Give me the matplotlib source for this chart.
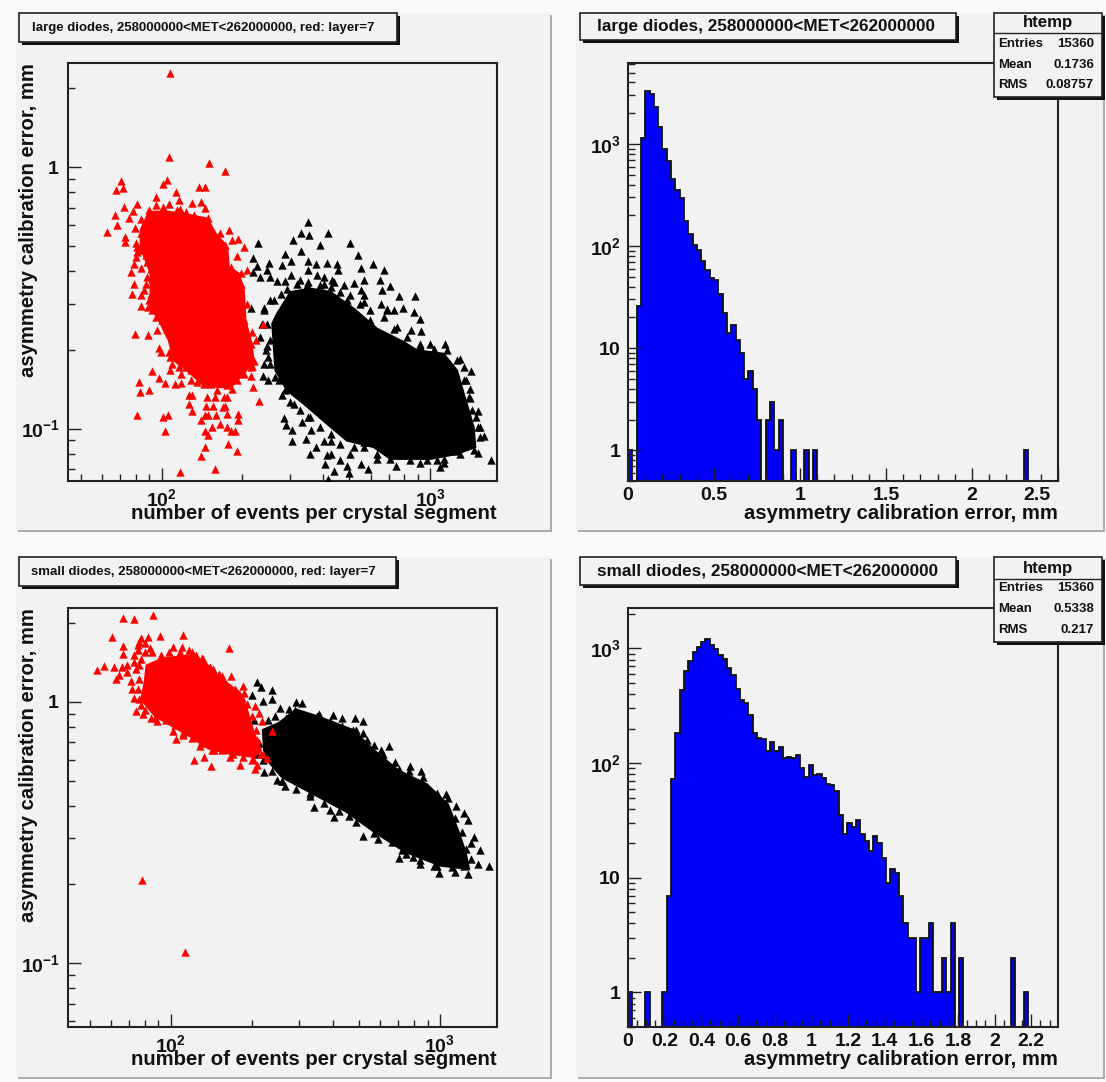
"""ROOT style calibration error panels: two scatter plots and two histograms."""

import matplotlib

matplotlib.use("Agg")
import matplotlib.pyplot as plt
import numpy as np
from matplotlib.patches import Rectangle
from matplotlib.ticker import LogLocator, NullFormatter, MultipleLocator
from matplotlib.transforms import ScaledTranslation

W, H = 1106, 1082
PAD_COLOR = "#f2f2f2"
BG_COLOR = "#f9f9f9"
INK = "#111111"

# scatter values are (log10 events, log10 error)
# large diodes: saturated core outlines, then the separate points round them
large_black_core = [
    (2.430, -.561), (2.480, -.478), (2.554, -.465), (2.629, -.478), (2.715, -.541), (2.802, -.618),
    (2.901, -.669), (2.951, -.701), (3.050, -.714), (3.100, -.778), (3.125, -.867), (3.162, -.995),
    (3.168, -1.071), (3.100, -1.097), (3.001, -1.116), (2.852, -1.116), (2.790, -1.071), (2.690, -1.046),
    (2.616, -.982), (2.529, -.905), (2.467, -.854), (2.424, -.778), (2.418, -.688), (2.412, -.599),
]
large_black_points = [
    (2.545, -.209), (2.519, -.254), (2.549, -.259), (2.619, -.254), (2.490, -.280), (2.358, -.290),
    (2.589, -.300), (2.703, -.290), (2.519, -.320), (2.460, -.331), (2.733, -.336), (2.341, -.346),
    (2.400, -.366), (2.356, -.377), (2.447, -.374), (2.480, -.361), (2.544, -.359), (2.574, -.372),
    (2.614, -.366), (2.653, -.372), (2.658, -.392), (2.544, -.395), (2.743, -.387), (2.787, -.372),
    (2.827, -.392), (2.341, -.402), (2.393, -.395), (2.480, -.412), (2.579, -.414), (2.718, -.443),
    (2.753, -.433), (2.812, -.433), (2.852, -.453), (2.633, -.433), (2.678, -.452), (2.743, -.471),
    (2.820, -.469), (2.883, -.494), (2.942, -.494), (2.368, -.420), (2.403, -.420), (2.430, -.435),
    (2.460, -.435), (2.514, -.433), (2.544, -.438), (2.606, -.446), (2.753, -.516), (2.817, -.522),
    (2.839, -.541), (2.867, -.548), (2.899, -.538), (2.941, -.554), (2.961, -.580), (2.929, -.624),
    (2.966, -.627), (3.001, -.675), (3.055, -.675), (2.961, -.683), (3.112, -.733), (3.152, -.780),
    (3.134, -.816), (3.147, -.848), (3.147, -.882), (3.180, -.933), (3.172, -.956), (3.184, -.995),
    (3.201, -1.030), (3.180, -1.092), (3.226, -1.122), (2.331, -.538), (2.381, -.538), (2.374, -.599),
    (2.366, -.650), (2.393, -.686), (2.381, -.752), (2.395, -.727), (2.376, -.801), (2.395, -.813),
    (2.424, -.803), (2.449, -.873), (2.477, -.899), (2.455, -.959), (2.465, -.985), (2.486, -1.007),
    (2.486, -1.046), (2.523, -.976), (2.536, -1.039), (2.544, -.956), (2.558, -1.007), (2.574, -1.071),
    (2.552, -1.097), (2.616, -1.103), (2.629, -1.020), (2.653, -.985), (2.610, -1.135), (2.641, -1.161),
    (2.619, -1.193), (2.698, -1.170), (2.767, -1.154), (2.743, -1.135), (2.802, -1.116), (2.753, -1.052),
    (2.691, -1.142), (2.873, -1.144), (2.961, -1.133), (3.025, -1.122), (3.038, -1.148), (3.050, -1.133),
    (3.094, -1.087), (2.777, -.586), (2.864, -.618),
    # fringe of the dense cloud
    (2.418, -.509), (2.443, -.484), (2.467, -.465), (2.505, -.446), (2.542, -.452), (2.591, -.452),
    (2.629, -.458), (2.666, -.478), (2.691, -.509), (2.740, -.522), (2.777, -.548), (2.827, -.573),
    (2.877, -.612), (2.914, -.650), (2.963, -.675), (3.013, -.695), (3.062, -.701), (3.100, -.739),
    (3.125, -.765), (3.125, -.816), (3.143, -.880), (3.156, -.931), (3.180, -.995), (3.187, -1.033),
    (3.162, -1.084), (3.112, -1.097), (3.050, -1.116), (2.988, -1.122), (2.926, -1.122), (2.852, -1.116),
    (2.802, -1.097), (2.753, -1.071), (2.715, -1.071), (2.666, -1.059), (2.629, -1.046), (2.591, -.995),
    (2.554, -.956), (2.517, -.931), (2.492, -.905), (2.461, -.854), (2.436, -.816), (2.405, -.752),
    (2.387, -.701), (2.405, -.663), (2.393, -.599), (2.381, -.548), (2.405, -.509), (2.603, -.420),
    (2.641, -.439), (2.703, -.490), (2.753, -.490), (2.839, -.548), (2.629, -1.097), (2.666, -1.122),
    (2.703, -1.097), (2.604, -1.046),
]
large_red_core = [
    (1.953, -.171), (2.027, -.171), (2.108, -.184), (2.170, -.197), (2.201, -.254), (2.244, -.305),
    (2.250, -.382), (2.287, -.407), (2.306, -.471), (2.312, -.586), (2.331, -.663), (2.343, -.739),
    (2.306, -.790), (2.257, -.842), (2.226, -.842), (2.157, -.835), (2.108, -.790), (2.046, -.739),
    (2.027, -.663), (1.990, -.586), (1.959, -.535), (1.959, -.407), (1.922, -.305), (1.922, -.241),
]
large_red_points = [
    (2.033, .360), (2.029, .037), (2.177, .017), (2.237, -.014), (2.019, -.050), (2.004, -.065),
    (1.850, -.055), (1.830, -.086), (1.855, -.080), (2.138, -.075), (2.162, -.075), (2.053, -.096),
    (1.979, -.116), (1.909, -.142), (1.860, -.152), (1.895, -.167), (1.825, -.183), (1.880, -.193),
    (1.835, -.223), (1.795, -.249), (1.900, -.234), (1.865, -.267), (1.862, -.287), (2.063, -.126),
    (2.113, -.137), (2.148, -.132), (2.029, -.142), (1.979, -.147), (2.004, -.152), (1.954, -.163),
    (2.162, -.157), (2.068, -.162), (1.922, -.198), (1.954, -.193), (2.029, -.188), (2.172, -.193),
    (2.252, -.239), (2.286, -.275), (2.262, -.280), (2.306, -.305), (2.217, -.254), (2.237, -.300),
    (2.281, -.341), (1.905, -.290), (1.909, -.326), (1.897, -.372), (1.887, -.402), (1.922, -.387),
    (1.897, -.446), (1.890, -.484), (1.924, -.530), (1.922, -.489), (1.949, -.535), (1.900, -.637),
    (1.949, -.642), (1.984, -.622), (2.029, -.632), (1.989, -.693), (1.999, -.709), (1.964, -.780),
    (1.989, -.806), (2.014, -.826), (2.048, -.831), (2.073, -.826), (1.914, -.821), (1.919, -.862),
    (1.954, -.852), (1.909, -.949), (2.004, -.954), (2.024, -.949), (2.014, -1.010), (2.103, -.872),
    (2.113, -.872), (2.103, -.905), (2.113, -.933), (2.148, -.969), (2.162, -.949), (2.172, -.949),
    (2.202, -.949), (2.187, -.995), (2.162, -1.008), (2.172, -1.023), (2.162, -1.071), (2.148, -1.105),
    (2.247, -1.061), (2.281, -1.087), (2.242, -.995), (2.257, -1.010), (2.272, -1.010), (2.286, -.944),
    (2.286, -.969), (2.242, -.944), (2.219, -.982), (2.068, -1.168), (2.197, -1.153), (2.361, -.893),
    (2.341, -.842), (2.331, -.800), (2.262, -.847), (2.319, -.392), (2.296, -.407), (2.353, -.663),
    (2.336, -.630), (2.336, -.760), (2.343, -.742), (2.170, -.880), (2.207, -.854), (2.197, -.880),
    (2.232, -.880), (2.244, -.880), (2.167, -.913), (2.192, -.913), (2.227, -.918), (2.237, -.913),
    (2.108, -.816), (2.133, -.821), (2.157, -.829), (2.182, -.829), (2.033, -.778), (2.038, -.752),
    (2.073, -.790), (2.033, -.727), (2.108, -.778), (2.376, -.601),
    # fringe of the dense cloud
    (1.909, -.305), (1.934, -.280), (1.903, -.344), (1.922, -.318), (1.940, -.337), (1.965, -.344),
    (1.947, -.363), (1.959, -.388), (1.947, -.420), (1.965, -.427), (1.940, -.446), (1.934, -.471),
    (1.959, -.484), (1.953, -.510), (1.965, -.548), (1.978, -.573), (2.002, -.586), (2.021, -.618),
    (2.040, -.650), (2.064, -.695), (2.027, -.707), (2.052, -.727), (2.083, -.727), (2.108, -.739),
    (2.133, -.778), (2.164, -.784), (2.195, -.790), (2.164, -.765), (2.089, -.765), (2.064, -.765),
    (2.226, -.816), (2.244, -.835), (2.281, -.816), (2.306, -.790), (2.331, -.765), (2.319, -.714),
    (2.331, -.676), (2.319, -.637), (2.306, -.586), (2.294, -.548), (2.319, -.522), (2.281, -.497),
    (2.294, -.446), (2.269, -.407), (2.257, -.382), (2.232, -.331), (2.207, -.280), (2.182, -.241),
    (2.151, -.203), (2.120, -.184), (2.089, -.171), (2.058, -.165), (1.990, -.203), (1.959, -.190),
    (1.934, -.229), (1.922, -.254),
]

# small diodes
small_black_core = [
    (2.342, -.107), (2.401, -.081), (2.466, -.029), (2.545, -.055), (2.676, -.107), (2.755, -.185),
    (2.846, -.263), (2.951, -.315), (3.030, -.393), (3.069, -.497), (3.095, -.575), (3.108, -.640),
    (3.003, -.627), (2.872, -.575), (2.755, -.497), (2.650, -.419), (2.532, -.354), (2.414, -.289),
    (2.348, -.211),
]
small_black_points = [
    (2.320, .078), (2.335, .056), (2.375, .047), (2.303, .026), (2.342, .004), (2.375, .010),
    (2.407, -.022), (2.440, -.026), (2.464, 0.0), (2.487, -.005), (2.552, -.048), (2.604, -.051),
    (2.637, -.061), (2.683, -.061), (2.715, -.074), (2.676, -.107), (2.715, -.120), (2.755, -.165),
    (2.811, -.169), (2.787, -.198), (2.846, -.256), (2.889, -.247), (2.931, -.263), (3.023, -.351),
    (3.058, -.399), (3.089, -.425), (3.106, -.451), (3.128, -.516), (3.148, -.568), (3.115, -.542),
    (3.141, -.620), (3.182, -.629), (3.106, -.659), (3.056, -.653), (2.997, -.655), (2.927, -.620),
    (2.846, -.598), (2.713, -.512), (2.608, -.442), (2.532, -.403), (2.591, -.412), (2.770, -.523),
    (2.414, -.302), (2.348, -.269), (2.394, -.299), (2.424, -.321), (2.899, -.594), (2.859, -.568),
    (2.977, -.627), (3.089, -.627), (3.115, -.601), (2.322, -.159), (2.322, -.198), (2.309, -.068),
    (2.519, -.347), (2.663, -.438),
    # fringe of the dense cloud
    (2.362, -.068), (2.388, -.055), (2.427, -.061), (2.460, -.029), (2.506, -.055), (2.545, -.055),
    (2.591, -.074), (2.637, -.094), (2.689, -.107), (2.728, -.146), (2.781, -.185), (2.833, -.230),
    (2.886, -.263), (2.938, -.289), (2.990, -.347), (3.030, -.367), (3.056, -.445), (3.082, -.497),
    (3.095, -.562), (3.082, -.614), (3.043, -.633), (2.990, -.627), (2.925, -.607), (2.872, -.581),
    (2.820, -.536), (2.755, -.503), (2.689, -.458), (2.624, -.419), (2.571, -.386), (2.519, -.360),
    (2.466, -.334), (2.414, -.302), (2.375, -.263), (2.342, -.224), (2.329, -.159),
]
small_red_core = [
    (1.910, .140), (1.969, .166), (2.073, .179), (2.126, .153), (2.178, .095), (2.257, .036),
    (2.283, -.029), (2.309, -.120), (2.335, -.185), (2.309, -.211), (2.217, -.198), (2.139, -.178),
    (2.073, -.133), (2.008, -.094), (1.942, -.055), (1.890, .010), (1.903, .075),
]
small_red_points = [
    (1.824, .322), (1.864, .317), (1.933, .333), (1.780, .250), (1.890, .244), (1.916, .247),
    (1.959, .251), (2.047, .255), (1.822, .213), (1.883, .231), (1.879, .199), (1.923, .205),
    (2.215, .208), (2.041, .212), (2.008, .212), (1.824, .182), (1.864, .179), (2.080, .192),
    (2.115, .169), (2.157, .127), (2.191, .099), (2.224, .101), (1.724, .122), (1.750, .138),
    (1.789, .133), (1.818, .134), (1.838, .140), (1.809, .104), (1.798, .088), (1.853, .082),
    (1.864, .153), (1.838, .114), (1.883, .140), (1.857, .049), (1.864, .017), (1.870, -.033),
    (1.897, -.048), (1.890, -.013), (1.927, -.061), (1.949, -.074), (1.982, -.055), (2.008, -.113),
    (2.021, -.143), (2.047, -.126), (2.110, -.169), (2.086, -.221), (2.122, -.211), (2.148, -.247),
    (2.159, -.185), (2.220, -.211), (2.257, -.242), (2.312, -.256), (2.322, -.243), (2.307, -.217),
    (2.342, -.198), (2.359, -.213), (2.270, .062), (2.272, .036), (2.312, -.016), (2.329, -.042),
    (2.338, -.074), (2.375, -.113), (1.894, -.681), (2.052, -.958),
    # fringe of the dense cloud
    (1.877, .218), (1.903, .225), (1.929, .192), (1.962, .179), (1.995, .192), (2.034, .192),
    (2.067, .199), (2.093, .179), (2.119, .166), (2.145, .134), (2.178, .108), (2.204, .069),
    (2.237, .049), (2.263, .017), (2.283, -.009), (2.303, -.055), (2.316, -.107), (2.322, -.146),
    (2.335, -.198), (2.303, -.224), (2.270, -.211), (2.231, -.198), (2.191, -.185), (2.152, -.185),
    (2.113, -.159), (2.080, -.139), (2.047, -.120), (2.014, -.087), (1.982, -.068), (1.942, -.061),
    (1.903, -.029), (1.883, .010), (1.877, .049), (1.883, .088), (1.870, .127), (1.890, .166),
    (1.903, .192),
]

# histogram bin counts, 100 bins each, listed up to the last filled bin
large_bin_width = 0.025
large_counts = [
    1, 0, 26, 1150, 3300, 3100, 2300, 1470, 890, 680,
    450, 355, 295, 176, 131, 102, 91, 71, 58, 49,
    47, 34, 22, 14, 17, 12, 9, 5, 6, 4,
    2, 0, 2, 3, 1, 2, 0, 0, 1, 0,
    0, 1, 0, 1, 0, 0, 0, 0, 0, 0,
    0, 0, 0, 0, 0, 0, 0, 0, 0, 0,
    0, 0, 0, 0, 0, 0, 0, 0, 0, 0,
    0, 0, 0, 0, 0, 0, 0, 0, 0, 0,
    0, 0, 0, 0, 0, 0, 0, 0, 0, 0,
    0, 0, 1,
]
small_bin_width = 0.02346
small_counts = [
    1, 0, 0, 0, 1, 0, 0, 0, 1, 7,
    73, 184, 437, 640, 770, 930, 1030, 1130, 1220, 1075,
    980, 880, 810, 680, 590, 440, 355, 333, 263, 184,
    167, 161, 127, 154, 127, 137, 111, 113, 111, 117,
    90, 76, 97, 79, 81, 74, 66, 65, 57, 35,
    24, 30, 28, 32, 24, 21, 17, 23, 20, 15,
    9, 12, 11, 7, 4, 3, 3, 1, 3, 3,
    4, 1, 1, 2, 1, 4, 0, 2, 0, 0,
    0, 0, 0, 0, 0, 0, 0, 0, 0, 2,
    0, 0, 1,
]

large_title = "large diodes, 258000000<MET<262000000"
small_title = "small diodes, 258000000<MET<262000000"
scatter_suffix = ", red: layer=7"
scatter_xlabel = "number of events per crystal segment"
error_label = "asymmetry calibration error, mm"
large_stats = [("Entries", "15360"), ("Mean", "0.1736"), ("RMS", "0.08757")]
small_stats = [("Entries", "15360"), ("Mean", "0.5338"), ("RMS", "0.217")]
large_hist_ticks = [0, 0.5, 1, 1.5, 2, 2.5]
large_hist_labels = ["0", "0.5", "1", "1.5", "2", "2.5"]
small_hist_ticks = [0, 0.2, 0.4, 0.6, 0.8, 1, 1.2, 1.4, 1.6, 1.8, 2, 2.2]
small_hist_labels = ["0", "0.2", "0.4", "0.6", "0.8", "1", "1.2", "1.4", "1.6", "1.8", "2", "2.2"]

plt.rcParams["font.family"] = ["Liberation Sans", "DejaVu Sans"]
plt.rcParams["font.weight"] = "bold"
plt.rcParams["axes.labelweight"] = "bold"
plt.rcParams["mathtext.fontset"] = "custom"
plt.rcParams["mathtext.bf"] = "Liberation Sans:bold"
plt.rcParams["mathtext.rm"] = "Liberation Sans:bold"


def px_rect(x0, y0, x1, y1):
    """Pixel box measured from the top left, as figure fractions."""
    return [x0 / W, 1 - y1 / H, (x1 - x0) / W, (y1 - y0) / H]


def add_box(fig, x0, y0, x1, y1, face=PAD_COLOR, edge="none", lw=0.0, zorder=-5):
    l, b, w, h = px_rect(x0, y0, x1, y1)
    fig.add_artist(Rectangle((l, b), w, h, transform=fig.transFigure, facecolor=face,
                             edgecolor=edge, linewidth=lw, zorder=zorder))


def add_pad(fig, x0, y0, x1, y1):
    add_box(fig, x0 + 2, y0 + 2, x1 + 2, y1 + 2, face="#adadad")
    add_box(fig, x0, y0, x1, y1)


def add_title_box(fig, x0, y0, x1, y1, text, size, tx):
    add_box(fig, x0 + 3, y0 + 3, x1 + 3, y1 + 3, face="#111111", zorder=4)
    add_box(fig, x0, y0, x1, y1, edge="#222222", lw=1.2, zorder=4)
    fig.text(tx / W, 1 - (y0 + y1) / 2 / H, text, fontsize=size, color=INK,
             ha="left", va="center", zorder=5)


def add_stats(fig, x0, y0, x1, y1, divider, rows, stats):
    add_box(fig, x0 + 3, y0 + 3, x1 + 3, y1 + 3, face="#111111", zorder=4)
    add_box(fig, x0, y0, x1, y1, edge="#222222", lw=1.2, zorder=4)
    add_box(fig, x0, divider, x1, divider, edge="#222222", lw=1.0, zorder=5)
    fig.text((x0 + x1) / 2 / W, 1 - (y0 + divider) / 2 / H, "htemp", fontsize=12.2, color=INK,
             ha="center", va="center", zorder=5)
    for row_y, (name, value) in zip(rows, stats):
        fig.text((x0 + 4) / W, 1 - row_y / H, name, fontsize=9.5, color=INK, ha="left", va="center", zorder=5)
        fig.text((x1 - 8) / W, 1 - row_y / H, value, fontsize=9.5, color=INK, ha="right", va="center", zorder=5)


def style_axes(ax):
    ax.set_facecolor(PAD_COLOR)
    ax.set_axisbelow(False)
    for spine in ax.spines.values():
        spine.set_linewidth(1.5)
        spine.set_color("#222222")
    ax.tick_params(which="major", direction="in", length=9.2, width=1.0, color="#222222",
                   labelsize=14, top=False, right=False, labelcolor=INK)
    ax.tick_params(which="minor", direction="in", length=5.0, width=1.0, color="#222222",
                   top=False, right=False)


def log_minor(axis):
    axis.set_minor_locator(LogLocator(base=10, subs=np.arange(2, 10), numticks=12))
    axis.set_minor_formatter(NullFormatter())


def draw_scatter(ax, x_lim, y_lim, x_major, black_core, black_points, red_core, red_points):
    ax.set_xscale("log")
    ax.set_yscale("log")
    for core, points, color, z in (
        (black_core, black_points, "black", 3),
        (red_core, red_points, "#ff0000", 4),
    ):
        core = 10.0 ** np.array(core)
        points = 10.0 ** np.array(points)
        ax.fill(core[:, 0], core[:, 1], color=color, linewidth=1.5, zorder=z)
        ax.scatter(points[:, 0], points[:, 1], marker="^", s=36, color=color, linewidths=0, zorder=z)
    ax.set_xlim(*x_lim)
    ax.set_ylim(*y_lim)
    style_axes(ax)
    ax.set_xticks(x_major, labels=[r"$\mathbf{10^{2}}$", r"$\mathbf{10^{3}}$"])
    ax.set_yticks([0.1, 1], labels=[r"$\mathbf{10^{-1}}$", r"$\mathbf{1}$"])
    log_minor(ax.xaxis)
    log_minor(ax.yaxis)
    ax.tick_params(axis="x", which="major", pad=5)
    ax.tick_params(axis="y", which="major", pad=6)
    ax.set_xlabel(scatter_xlabel, fontsize=14.6, color=INK, ha="right")
    ax.xaxis.set_label_coords(1.0, -0.055)
    ax.set_ylabel(error_label, fontsize=14.6, color=INK, loc="top", labelpad=0)
    ax.yaxis.set_label_coords(-0.070, 1.0)


def draw_hist(ax, counts, bin_width, x_max, y_max, ticks, tick_labels, minor_step):
    counts = np.array(counts, dtype=float)
    edges = bin_width * np.arange(len(counts) + 1)
    shown = np.maximum(counts, 0.5)
    ax.set_yscale("log")
    ax.stairs(shown, edges, baseline=0.5, fill=True, facecolor="#0000ff", edgecolor="none", zorder=1)
    ax.stairs(shown, edges, baseline=0.5, color="#111111", linewidth=1.3, zorder=2)
    ax.set_xlim(0, x_max)
    ax.set_ylim(0.5, y_max)
    style_axes(ax)
    ax.set_xticks(ticks, labels=tick_labels)
    ax.xaxis.set_minor_locator(MultipleLocator(minor_step))
    ax.set_yticks([1, 10, 100, 1000],
                  labels=[r"$\mathbf{1}$", r"$\mathbf{10}$", r"$\mathbf{10^{2}}$", r"$\mathbf{10^{3}}$"])
    log_minor(ax.yaxis)
    ax.tick_params(axis="x", which="major", pad=4)
    ax.tick_params(axis="y", which="major", pad=5)
    ax.set_xlabel(error_label, fontsize=14.6, color=INK, ha="right")
    ax.xaxis.set_label_coords(1.0, -0.055)


fig = plt.figure(figsize=(W / 100, H / 100), dpi=100, facecolor=BG_COLOR)

add_pad(fig, 16, 13, 550, 530)
add_pad(fig, 576, 13, 1103, 530)
add_pad(fig, 16, 557, 550, 1077)
add_pad(fig, 576, 557, 1103, 1077)

ax_large = fig.add_axes(px_rect(68, 63, 497, 481))
draw_scatter(ax_large, (44.8, 1774), (0.063, 2.5), [100, 1000],
             large_black_core, large_black_points, large_red_core, large_red_points)

ax_small = fig.add_axes(px_rect(68, 608, 497, 1027))
draw_scatter(ax_small, (41.5, 1629), (0.0569, 2.29), [100, 1000],
             small_black_core, small_black_points, small_red_core, small_red_points)

ax_large_h = fig.add_axes(px_rect(628, 63, 1058, 481))
draw_hist(ax_large_h, large_counts, large_bin_width, 2.49, 6200, large_hist_ticks, large_hist_labels, 0.1)
last_label = ax_large_h.get_xticklabels()[-1]
last_label.set_ha("right")
last_label.set_transform(last_label.get_transform() + ScaledTranslation(-8 / 100, 0, fig.dpi_scale_trans))

ax_small_h = fig.add_axes(px_rect(628, 608, 1058, 1027))
draw_hist(ax_small_h, small_counts, small_bin_width, 2.346, 2254, small_hist_ticks, small_hist_labels, 0.05)

add_title_box(fig, 19, 13, 397, 42, large_title + scatter_suffix, 9.5, 32)
add_title_box(fig, 19, 557, 396, 586, small_title + scatter_suffix, 9.5, 31)
add_title_box(fig, 580, 13, 956, 40, large_title, 12.3, 597)
add_title_box(fig, 580, 557, 956, 585, small_title, 12.3, 597)

add_stats(fig, 994, 13, 1102, 97, 33, [44, 65, 85], large_stats)
add_stats(fig, 994, 557, 1102, 642, 579, [588, 609, 630], small_stats)

fig.savefig("out.png", dpi=100, facecolor=BG_COLOR)
plt.close(fig)
